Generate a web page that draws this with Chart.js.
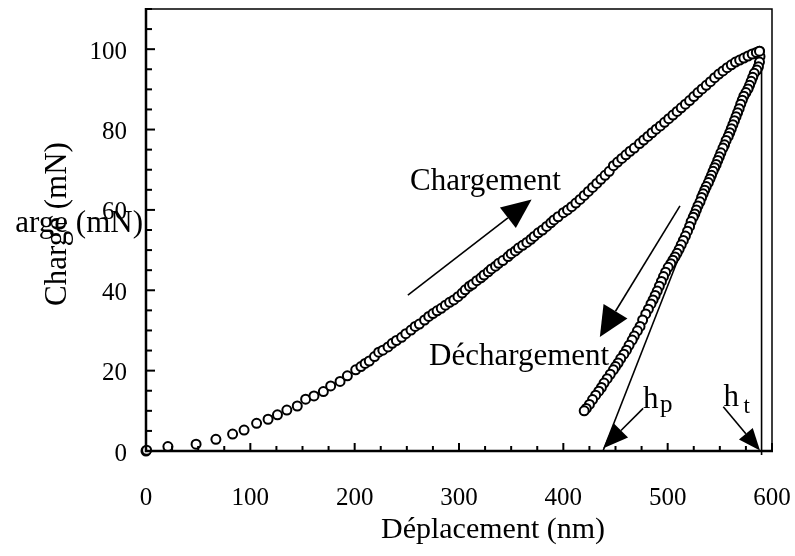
<!DOCTYPE html>
<html>
<head>
<meta charset="utf-8">
<script src="https://cdn.jsdelivr.net/npm/chart.js@4.4.1/dist/chart.umd.min.js"></script>
<style>
  html, body { margin: 0; padding: 0; background: #fff; }
  canvas { display: block; }
</style>
</head>
<body>
<canvas id="graphique" width="795" height="556"></canvas>
<script>
// courbe de chargement (nm, mN)
const chargeX = [0, 0.6, 21, 48, 67, 83, 94, 106, 117, 126, 135, 145, 153, 161, 170, 177, 186, 193, 201, 206,
  210, 214, 219, 223, 227, 232, 236, 240, 245, 249, 254, 258, 262, 267, 271,
  275, 279, 283, 287, 291, 295, 299, 303, 306, 310, 313, 317, 321, 324, 328, 331, 335, 338, 342, 347,
  350, 354, 357, 361, 365, 369, 372, 376, 380, 384, 388, 391, 395, 400, 404, 408,
  412, 416, 420, 424, 428, 432, 436, 440, 444, 448, 452, 456, 460, 464, 468, 473, 477, 481, 485, 489,
  493, 497, 501, 505, 509, 513, 517, 521, 525, 529, 533, 537, 541, 545, 549, 553, 557, 561, 565, 569,
  573, 577, 581, 585, 588];
const chargeY = [0, 0.2, 1.1, 1.7, 2.9, 4.2, 5.2, 6.9, 7.9, 9.0, 10.2, 11.2, 12.9, 13.7, 14.8, 16.2, 17.3, 18.7, 20.2, 21.0,
  21.8, 22.4, 23.5, 24.6, 25.1, 25.9, 26.8, 27.5, 28.3, 29.2, 30.1, 31.0, 31.6, 32.6, 33.5,
  34.2, 34.9, 35.5, 36.3, 37.0, 37.6, 38.4, 39.3, 40.1, 41.0, 41.5, 42.4, 43.1, 43.8, 44.6, 45.3, 46.0, 46.7, 47.4, 48.4,
  49.1, 49.8, 50.5, 51.2, 51.9, 52.7, 53.4, 54.3, 55.0, 55.9, 56.8, 57.5, 58.3, 59.3, 60.0, 60.8,
  61.7, 62.6, 63.6, 64.6, 65.6, 66.6, 67.6, 68.6, 69.6, 71.0, 71.9, 72.8, 73.7, 74.6, 75.4, 76.5, 77.4, 78.3, 79.2, 80.1,
  80.9, 81.8, 82.7, 83.6, 84.5, 85.4, 86.3, 87.2, 88.2, 89.2, 90.1, 91.0, 91.9, 92.9, 93.8, 94.6, 95.4, 96.1, 96.8, 97.3,
  97.8, 98.3, 98.8, 99.2, 99.5];

// courbe de déchargement
const dechargeX = [588, 588.5, 588, 587, 585.5, 583, 581.5, 580, 578.5, 577, 575, 573, 571.5, 570, 568.5, 567,
  565.5, 564, 562.5, 561, 559.5, 558, 556, 554.5, 553, 551, 549.5, 548, 546.5, 545, 543.5, 542, 540.5, 539,
  537, 535.5, 534, 532.5, 531, 529, 527.5, 526, 524.5, 522.5, 521, 519, 517, 515, 513, 511, 509, 507, 505,
  503, 500.5, 498, 496, 494, 492, 490, 488, 486, 484, 481.5, 479, 476, 473.5, 471, 468, 466, 463, 460.5,
  458, 455, 452.5, 450, 448, 445, 442, 439, 436.5, 434, 431, 428, 425, 422, 420];
const dechargeY = [99.5, 98.2, 96.8, 95.6, 94.8, 94.0, 93.0, 92.0, 91.0, 90.1, 89.2, 88.3, 87.3, 86.3, 85.2, 84.2,
  83.2, 82.2, 81.2, 80.2, 79.2, 78.3, 77.3, 76.2, 75.4, 74.2, 73.2, 72.3, 71.3, 70.5, 69.6, 68.6, 67.7, 66.8,
  65.8, 64.9, 64.0, 63.1, 62.0, 61.0, 60.0, 59.0, 58.2, 57.1, 55.9, 54.7, 53.5, 52.4, 51.3, 50.2, 49.2, 48.3, 47.5,
  46.6, 45.7, 44.5, 43.4, 42.2, 41.0, 39.8, 38.7, 37.6, 36.6, 35.3, 34.1, 32.6, 31.0, 29.9, 28.6, 27.6, 26.3, 25.1,
  24.1, 23.0, 21.9, 21.0, 20.2, 19.1, 18.0, 16.9, 15.8, 14.9, 13.9, 12.8, 11.6, 10.6, 10.0];

// tangente (hp) et verticale (ht)
const tangenteX = [438, 588];
const tangenteY = [0, 99.5];
const htX = [590, 590];
const htY = [-1, 98.5];

const xLabels = [0, 100, 200, 300, 400, 500, 600];
const yLabels = [0, 20, 40, 60, 80, 100];

const police = 'Liberation Serif, "Times New Roman", serif';

function points(xs, ys) {
  return xs.map((x, i) => ({ x: x, y: ys[i] }));
}

// flèches et textes, en coordonnées des données
const fleches = [
  { de: [251, 38.8], a: [369.6, 62.6], long: 30, demi: 13 },
  { de: [511.8, 61], a: [435, 28.4], long: 30, demi: 14 },
  { de: [476.5, 10.6], a: [438.3, 0.7], long: 25, demi: 10 },
  { de: [553.3, 11], a: [588.5, 0.1], long: 22, demi: 9 }
];
const textes = [
  { t: 'Chargement', x: 253, y: 65, taille: 31 },
  { t: 'Déchargement', x: 271.3, y: 21.4, taille: 31 },
  { t: 'h', x: 476.4, y: 10.7, taille: 31 },
  { t: 'p', x: 492.7, y: 9.7, taille: 25 },
  { t: 'h', x: 553.4, y: 11.2, taille: 31 },
  { t: 't', x: 572.6, y: 9.5, taille: 23 }
];

const decor = {
  id: 'decor',
  afterDraw(chart) {
    const ctx = chart.ctx;
    const a = chart.chartArea;
    const sx = chart.scales.x, sy = chart.scales.y;
    ctx.save();

    // cadre
    ctx.strokeStyle = '#000';
    ctx.lineWidth = 1.5;
    ctx.beginPath();
    ctx.moveTo(a.left, a.top);
    ctx.lineTo(a.right, a.top);
    ctx.lineTo(a.right, a.bottom);
    ctx.stroke();
    ctx.lineWidth = 2.5;
    ctx.beginPath();
    ctx.moveTo(a.left, a.top - 1);
    ctx.lineTo(a.left, a.bottom);
    ctx.lineTo(a.right + 1, a.bottom);
    ctx.stroke();

    // graduations vers l'intérieur
    ctx.lineWidth = 2;
    for (let v = 0; v <= 600; v += 25) {
      const px = sx.getPixelForValue(v);
      const l = v % 100 === 0 ? 8 : 5;
      ctx.beginPath();
      ctx.moveTo(px, a.bottom);
      ctx.lineTo(px, a.bottom - l);
      ctx.stroke();
    }
    for (let v = 0; v <= 110; v += 5) {
      const py = sy.getPixelForValue(v);
      const l = v % 20 === 0 ? 9 : 6;
      ctx.beginPath();
      ctx.moveTo(a.left, py);
      ctx.lineTo(a.left + l, py);
      ctx.stroke();
    }

    // flèches
    ctx.fillStyle = '#000';
    fleches.forEach(f => {
      const x0 = sx.getPixelForValue(f.de[0]), y0 = sy.getPixelForValue(f.de[1]);
      const x1 = sx.getPixelForValue(f.a[0]), y1 = sy.getPixelForValue(f.a[1]);
      const ang = Math.atan2(y1 - y0, x1 - x0);
      const bx = x1 - f.long * Math.cos(ang), by = y1 - f.long * Math.sin(ang);
      ctx.lineWidth = 1.6;
      ctx.beginPath();
      ctx.moveTo(x0, y0);
      ctx.lineTo(bx, by);
      ctx.stroke();
      ctx.beginPath();
      ctx.moveTo(x1, y1);
      ctx.lineTo(bx + f.demi * Math.sin(ang), by - f.demi * Math.cos(ang));
      ctx.lineTo(bx - f.demi * Math.sin(ang), by + f.demi * Math.cos(ang));
      ctx.closePath();
      ctx.fill();
    });

    // textes
    ctx.textAlign = 'left';
    ctx.textBaseline = 'alphabetic';
    textes.forEach(t => {
      ctx.font = t.taille + 'px ' + police;
      ctx.fillText(t.t, sx.getPixelForValue(t.x), sy.getPixelForValue(t.y));
    });

    // titres des axes
    ctx.font = '30px ' + police;
    ctx.textAlign = 'center';
    ctx.fillText('Déplacement (nm)', 493, 538);

    // titre vertical, et sa copie horizontale tronquée à gauche
    ctx.font = '31px ' + police;
    ctx.save();
    ctx.beginPath();
    ctx.rect(15.5, 190, 160, 60);
    ctx.clip();
    ctx.textAlign = 'right';
    ctx.fillText('Charge (mN)', 143, 232);
    ctx.restore();
    ctx.translate(58, 224);
    ctx.rotate(-Math.PI / 2);
    ctx.textAlign = 'center';
    ctx.textBaseline = 'middle';
    ctx.fillText('Charge (mN)', 0, 0);
    ctx.restore();
  }
};

const marqueur = {
  pointStyle: 'circle',
  pointRadius: 4.5,
  pointBorderWidth: 2,
  pointBackgroundColor: '#fff',
  pointBorderColor: '#000',
  showLine: false,
  clip: false
};

new Chart(document.getElementById('graphique'), {
  type: 'scatter',
  data: {
    datasets: [
      Object.assign({ label: 'Chargement', data: points(chargeX, chargeY) }, marqueur),
      Object.assign({ label: 'Déchargement', data: points(dechargeX, dechargeY) }, marqueur),
      { label: 'tangente', data: points(tangenteX, tangenteY), showLine: true, pointRadius: 0,
        borderColor: '#000', borderWidth: 1.6, clip: false },
      { label: 'ht', data: points(htX, htY), showLine: true, pointRadius: 0,
        borderColor: '#000', borderWidth: 1.6, clip: false }
    ]
  },
  options: {
    responsive: false,
    animation: false,
    devicePixelRatio: 1,
    layout: { padding: { left: 0, top: 9, right: 23, bottom: 0 } },
    plugins: { legend: { display: false }, tooltip: { enabled: false } },
    scales: {
      x: {
        min: 0, max: 600,
        grid: { display: false, drawTicks: false },
        border: { display: false },
        ticks: {
          stepSize: 25, padding: 32, color: '#000', maxRotation: 0, autoSkip: false,
          font: { family: police, size: 25 },
          callback: v => xLabels.includes(v) ? String(v) : ''
        },
        afterFit: s => { s.height = 105; s.paddingLeft = 0; s.paddingRight = 0; }
      },
      y: {
        min: 0, max: 110,
        grid: { display: false, drawTicks: false },
        border: { display: false },
        ticks: {
          stepSize: 5, padding: 19, color: '#000', autoSkip: false, labelOffset: 3,
          font: { family: police, size: 25 },
          callback: v => yLabels.includes(v) ? String(v) : ''
        },
        afterFit: s => { s.width = 146; s.paddingTop = 0; s.paddingBottom = 0; }
      }
    }
  },
  plugins: [decor]
});
</script>
</body>
</html>
